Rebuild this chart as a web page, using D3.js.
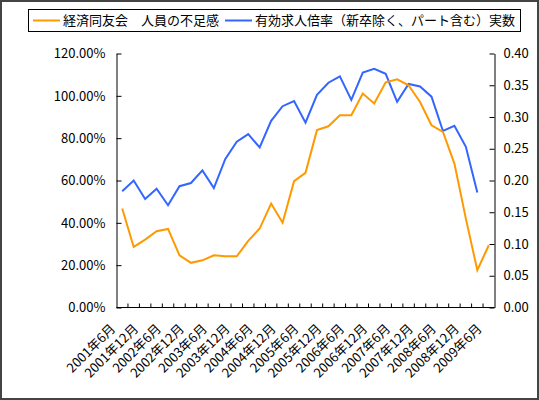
<!DOCTYPE html>
<html>
<head>
<meta charset="utf-8">
<script src="https://cdn.jsdelivr.net/npm/d3@7"></script>
<style>
  body { margin: 0; background: #fff; }
  text { font-family: "Noto Sans CJK JP", "Noto Sans", sans-serif; fill: #000; }
</style>
</head>
<body>
<div id="container"></div>
<script>
// quarterly categories
const categories = [
  "2001年6月", "2001年9月", "2001年12月", "2002年3月",
  "2002年6月", "2002年9月", "2002年12月", "2003年3月",
  "2003年6月", "2003年9月", "2003年12月", "2004年3月",
  "2004年6月", "2004年9月", "2004年12月", "2005年3月",
  "2005年6月", "2005年9月", "2005年12月", "2006年3月",
  "2006年6月", "2006年9月", "2006年12月", "2007年3月",
  "2007年6月", "2007年9月", "2007年12月", "2008年3月",
  "2008年6月", "2008年9月", "2008年12月", "2009年3月",
  "2009年6月"
];

// 経済同友会 人員の不足感 (left axis)
const shortage = [
  0.468, 0.286, 0.321, 0.360, 0.371, 0.246, 0.211, 0.223,
  0.247, 0.242, 0.242, 0.315, 0.373, 0.491, 0.400, 0.597,
  0.636, 0.838, 0.856, 0.908, 0.908, 1.011, 0.964, 1.064,
  1.078, 1.050, 0.971, 0.861, 0.830, 0.680, 0.420, 0.176,
  0.294
];

// 有効求人倍率 (right axis), ends one quarter earlier
const jobRatio = [
  0.183, 0.200, 0.171, 0.187, 0.161, 0.191, 0.196, 0.216,
  0.188, 0.234, 0.261, 0.273, 0.252, 0.294, 0.317, 0.325,
  0.291, 0.335, 0.354, 0.364, 0.327, 0.370, 0.376, 0.368,
  0.324, 0.352, 0.348, 0.332, 0.278, 0.286, 0.253, 0.181
];

const leftTicks = [0, 0.2, 0.4, 0.6, 0.8, 1.0, 1.2];
const rightTicks = [0, 0.05, 0.1, 0.15, 0.2, 0.25, 0.3, 0.35, 0.4];
const seriesNames = ["経済同友会　人員の不足感", "有効求人倍率（新卒除く、パート含む）実数"];
const colors = ["#ff9900", "#3366ff"];

const width = 539;
const height = 400;
const plot = { left: 116.5, right: 494.5, top: 53.5, bottom: 307.5 };

const svg = d3.select("#container")
  .append("svg")
  .attr("width", width)
  .attr("height", height);

// outer frame
svg.append("rect")
  .attr("x", 1).attr("y", 1)
  .attr("width", width - 2).attr("height", height - 2)
  .attr("fill", "#fff")
  .attr("stroke", "#444")
  .attr("stroke-width", 2);

const xScale = d3.scaleBand()
  .domain(categories)
  .range([plot.left, plot.right]);

const yLeft = d3.scaleLinear().domain([0, 1.2]).range([plot.bottom, plot.top]);
const yRight = d3.scaleLinear().domain([0, 0.4]).range([plot.bottom, plot.top]);

// left axis
svg.append("g")
  .attr("transform", `translate(${plot.left},0)`)
  .call(d3.axisLeft(yLeft).tickValues(leftTicks).tickFormat(d3.format(".2%"))
    .tickSizeInner(-5).tickSizeOuter(0).tickPadding(11))
  .call(g => g.selectAll("text").style("font-size", "13px"));

// right axis
svg.append("g")
  .attr("transform", `translate(${plot.right},0)`)
  .call(d3.axisRight(yRight).tickValues(rightTicks).tickFormat(d3.format(".2f"))
    .tickSizeInner(-5).tickSizeOuter(0).tickPadding(9))
  .call(g => g.selectAll("text").style("font-size", "13px"));

// bottom axis: ticks between categories, labels every other category
const xAxis = svg.append("g");
xAxis.append("line")
  .attr("x1", plot.left).attr("x2", plot.right)
  .attr("y1", plot.bottom).attr("y2", plot.bottom)
  .attr("stroke", "#000");

const boundaries = categories.map(c => xScale(c)).concat([plot.right]);
xAxis.selectAll(".xtick")
  .data(boundaries.slice(1, -1))
  .enter()
  .append("line")
  .attr("class", "xtick")
  .attr("x1", d => d).attr("x2", d => d)
  .attr("y1", plot.bottom).attr("y2", plot.bottom - 4)
  .attr("stroke", "#000");

xAxis.selectAll(".xlabel")
  .data(categories.filter((c, i) => i % 2 === 0))
  .enter()
  .append("text")
  .attr("class", "xlabel")
  .attr("text-anchor", "end")
  .attr("transform", d => `translate(${xScale(d) + xScale.bandwidth() / 2 - 6},${plot.bottom + 22}) rotate(-45)`)
  .style("font-size", "13px")
  .text(d => d);

// lines
const line = (yScale) => d3.line()
  .x((d, i) => xScale(categories[i]) + xScale.bandwidth() / 2)
  .y(d => yScale(d));

svg.append("path")
  .datum(jobRatio)
  .attr("fill", "none")
  .attr("stroke", colors[1])
  .attr("stroke-width", 2)
  .attr("d", line(yRight));

svg.append("path")
  .datum(shortage)
  .attr("fill", "none")
  .attr("stroke", colors[0])
  .attr("stroke-width", 2)
  .attr("d", line(yLeft));

// legend
svg.append("rect")
  .attr("x", 28.5).attr("y", 9.5)
  .attr("width", 492).attr("height", 22)
  .attr("fill", "#fff")
  .attr("stroke", "#000");

const legendX = [33, 225];
const legend = svg.selectAll(".legend")
  .data(seriesNames)
  .enter()
  .append("g")
  .attr("class", "legend")
  .attr("transform", (d, i) => `translate(${legendX[i]},20.5)`);

legend.append("line")
  .attr("x1", 0).attr("x2", 27)
  .attr("stroke", (d, i) => colors[i])
  .attr("stroke-width", 2);

legend.append("text")
  .attr("x", 30)
  .attr("y", 4.5)
  .style("font-size", "13px")
  .text(d => d);
</script>
</body>
</html>
